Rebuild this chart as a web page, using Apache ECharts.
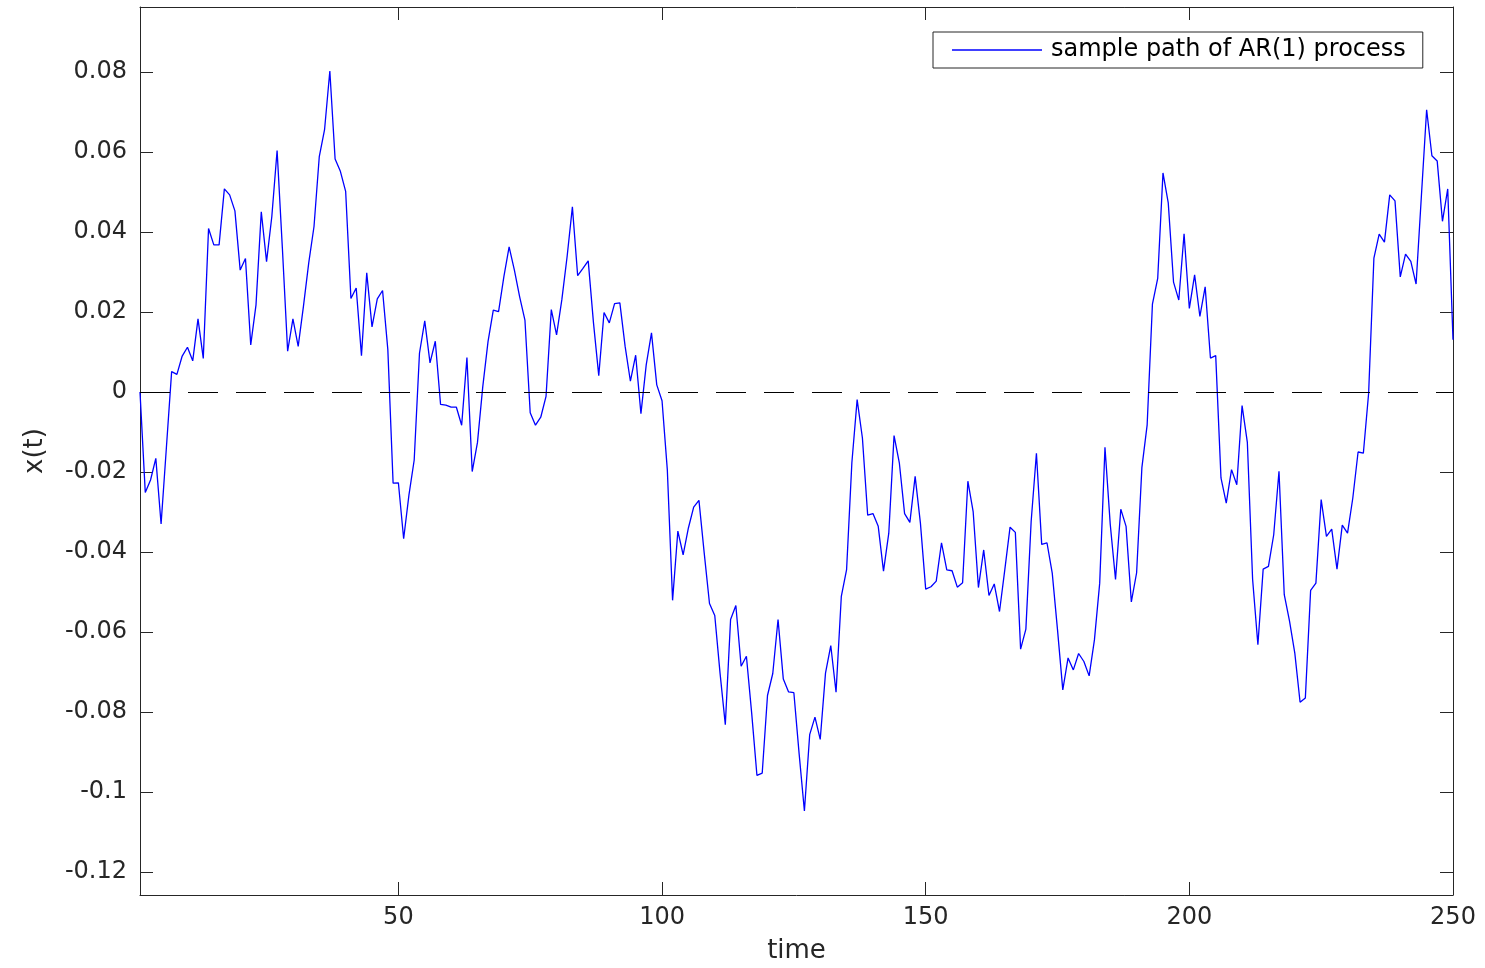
<!DOCTYPE html>
<html>
<head>
<meta charset="utf-8">
<title>AR(1) sample path</title>
<script src="https://cdn.jsdelivr.net/npm/echarts@6/dist/echarts.min.js"></script>
<style>
  html, body { margin: 0; padding: 0; background: #fff; }
  #chart { width: 1485px; height: 968px; }
</style>
</head>
<body>
<div id="chart"></div>
<script>
// x(t) for t = 1..250
const pathValues = [
  0, -0.0251, -0.022, -0.0166, -0.033, -0.014, 0.0051, 0.0044, 0.009, 0.0112,
  0.0078, 0.0183, 0.0084, 0.0409, 0.0368, 0.0368, 0.0508, 0.0493, 0.0453, 0.0305,
  0.0334, 0.0118, 0.0218, 0.0451, 0.0326, 0.0439, 0.0604, 0.036, 0.0102, 0.0183,
  0.0114, 0.0215, 0.0323, 0.0414, 0.0589, 0.0656, 0.0803, 0.0583, 0.0552, 0.0502,
  0.0234, 0.026, 0.0091, 0.0298, 0.0163, 0.0233, 0.0254, 0.0106, -0.0228, -0.0227,
  -0.0367, -0.0258, -0.017, 0.0097, 0.0178, 0.0073, 0.0127, -0.0031, -0.0033, -0.0038,
  -0.0038, -0.0083, 0.0086, -0.0199, -0.0126, 0.0013, 0.0126, 0.0205, 0.0201, 0.0288,
  0.0363, 0.0305, 0.0238, 0.018, -0.0052, -0.0083, -0.0063, -0.0011, 0.0206, 0.0143,
  0.0231, 0.0339, 0.0463, 0.0291, 0.0309, 0.0328, 0.0173, 0.0041, 0.0199, 0.0173,
  0.0221, 0.0223, 0.0114, 0.0027, 0.0092, -0.0054, 0.0068, 0.0148, 0.0018, -0.0022,
  -0.0194, -0.0521, -0.0348, -0.0407, -0.034, -0.0288, -0.0271, -0.0403, -0.0529, -0.0559,
  -0.0703, -0.0832, -0.0569, -0.0534, -0.0686, -0.0661, -0.0803, -0.0959, -0.0953, -0.0759,
  -0.0704, -0.0569, -0.0718, -0.075, -0.0752, -0.0905, -0.1048, -0.0857, -0.0813, -0.0869,
  -0.0703, -0.0634, -0.0751, -0.0511, -0.0444, -0.0177, -0.0019, -0.0115, -0.0308, -0.0304,
  -0.0336, -0.0448, -0.0353, -0.0109, -0.0177, -0.0304, -0.0326, -0.0211, -0.0328, -0.0493,
  -0.0487, -0.0473, -0.0377, -0.0445, -0.0447, -0.0488, -0.0477, -0.0223, -0.0299, -0.0489,
  -0.0395, -0.0509, -0.048, -0.0549, -0.0445, -0.0338, -0.0351, -0.0643, -0.0593, -0.0324,
  -0.0153, -0.0381, -0.0377, -0.0453, -0.0595, -0.0745, -0.0665, -0.0695, -0.0654, -0.0674,
  -0.071, -0.062, -0.0478, -0.0138, -0.0331, -0.0469, -0.0293, -0.0336, -0.0525, -0.0452,
  -0.0189, -0.0082, 0.022, 0.0284, 0.0548, 0.0473, 0.0275, 0.023, 0.0396, 0.0209,
  0.0293, 0.0189, 0.0263, 0.0085, 0.0091, -0.0215, -0.0278, -0.0194, -0.0232, -0.0034,
  -0.0126, -0.0469, -0.0632, -0.0443, -0.0436, -0.0357, -0.0198, -0.0507, -0.0573, -0.0653,
  -0.0776, -0.0765, -0.0496, -0.0478, -0.0269, -0.0361, -0.0343, -0.0443, -0.0333, -0.0353,
  -0.0265, -0.015, -0.0153, -0.0003, 0.0335, 0.0395, 0.0375, 0.0493, 0.0478, 0.0288,
  0.0345, 0.0327, 0.027, 0.0489, 0.0706, 0.0591, 0.0578, 0.0427, 0.0508, 0.0131
];
const xTicks = [50, 100, 150, 200, 250];
const yTicks = [-0.12, -0.1, -0.08, -0.06, -0.04, -0.02, 0, 0.02, 0.04, 0.06, 0.08];

const seriesData = pathValues.map((v, i) => [i + 1, v]);

const axisColor = "#262626";
const fontFamily = "DejaVu Sans";

const myecharts = echarts.init(document.getElementById("chart"));

const frameAxis = {
  type: "value",
  axisLine: { show: true, onZero: false, lineStyle: { color: axisColor, width: 1 } },
  axisTick: { show: true, inside: true, length: 13, lineStyle: { color: axisColor } },
  splitLine: { show: false },
};

myecharts.setOption({
  animation: false,
  grid: { left: 140, top: 7, width: 1313, height: 888, containLabel: false, outerBoundsMode: "none" },
  legend: {
    left: 933,
    top: 32,
    padding: [6, 17, 6, 19],
    borderColor: axisColor,
    borderWidth: 1,
    itemWidth: 90,
    itemHeight: 1.3,
    icon: "rect",
    textStyle: { fontFamily: fontFamily, fontSize: 24, color: "#000", padding: [0, 0, 0, 4], lineHeight: 24 },
    data: ["sample path of AR(1) process"],
  },
  xAxis: [
    Object.assign({}, frameAxis, {
      position: "bottom",
      min: 1,
      max: 250,
      name: "time",
      nameLocation: "middle",
      nameGap: 43,
      nameTextStyle: { fontFamily: fontFamily, fontSize: 26, color: axisColor },
      axisTick: Object.assign({}, frameAxis.axisTick, { customValues: xTicks }),
      axisLabel: { customValues: xTicks, margin: 11, fontFamily: fontFamily, fontSize: 24, color: axisColor },
    }),
    Object.assign({}, frameAxis, {
      position: "top",
      min: 1,
      max: 250,
      axisTick: Object.assign({}, frameAxis.axisTick, { customValues: xTicks }),
      axisLabel: { show: false, customValues: xTicks },
    }),
  ],
  yAxis: [
    Object.assign({}, frameAxis, {
      position: "left",
      min: -0.1258,
      max: 0.0963,
      name: "x(t)",
      nameLocation: "middle",
      nameRotate: 90,
      nameGap: 92,
      nameTextStyle: { fontFamily: fontFamily, fontSize: 26, color: axisColor },
      axisTick: Object.assign({}, frameAxis.axisTick, { customValues: yTicks }),
      axisLabel: { customValues: yTicks, margin: 13, fontFamily: fontFamily, fontSize: 24, color: axisColor },
    }),
    Object.assign({}, frameAxis, {
      position: "right",
      min: -0.1258,
      max: 0.0963,
      axisTick: Object.assign({}, frameAxis.axisTick, { customValues: yTicks }),
      axisLabel: { show: false, customValues: yTicks },
    }),
  ],
  series: [
    {
      name: "sample path of AR(1) process",
      type: "line",
      xAxisIndex: 0,
      yAxisIndex: 0,
      data: seriesData,
      symbol: "none",
      showSymbol: false,
      lineStyle: { color: "#0000ff", width: 1.3 },
      itemStyle: { color: "#0000ff" },
      markLine: {
        silent: true,
        symbol: "none",
        label: { show: false },
        lineStyle: { color: "#000", width: 1, type: [30, 18] },
        data: [{ yAxis: 0 }],
      },
    },
  ],
});
</script>
</body>
</html>
